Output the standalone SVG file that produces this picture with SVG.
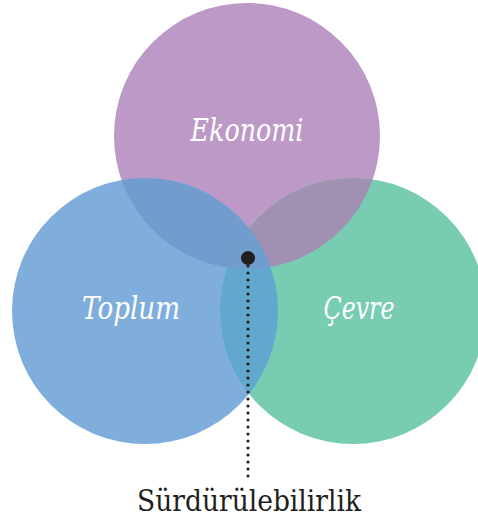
<svg xmlns="http://www.w3.org/2000/svg" width="478" height="522" viewBox="0 0 478 522">
<style>
.lbl{font-family:"DejaVu Serif","Liberation Serif",serif;font-style:italic;font-size:31px;fill:#ffffff;text-anchor:middle}
.cap{font-family:"DejaVu Serif","Liberation Serif",serif;font-size:30px;fill:#231f20;text-anchor:middle}
</style>
<defs>
<clipPath id="cE"><circle cx="247" cy="136" r="133"/></clipPath>
<clipPath id="cT"><circle cx="145" cy="311" r="133"/></clipPath>
<clipPath id="cC"><circle cx="353" cy="311" r="133"/></clipPath>
</defs>
<rect width="478" height="522" fill="#ffffff"/>
<g id="ekonomi">
<circle cx="247" cy="136" r="133" fill="#bc99c6"/>
</g>
<g id="toplum">
<circle cx="145" cy="311" r="133" fill="#7faedc"/>
</g>
<g id="cevre">
<circle cx="353" cy="311" r="133" fill="#77ccb1"/>
</g>
<g id="overlaps">
<circle cx="145" cy="311" r="133" fill="#739cce" clip-path="url(#cE)"/>
<circle cx="353" cy="311" r="133" fill="#a091b3" clip-path="url(#cE)"/>
<circle cx="353" cy="311" r="133" fill="#62a7ce" clip-path="url(#cT)"/>
<g clip-path="url(#cE)"><circle cx="353" cy="311" r="133" fill="#6f9ece" clip-path="url(#cT)"/></g>
</g>
<g id="labels">
<text class="lbl" x="247" y="141" textLength="113" lengthAdjust="spacingAndGlyphs">Ekonomi</text>
<text class="lbl" x="131" y="319" textLength="98" lengthAdjust="spacingAndGlyphs">Toplum</text>
<text class="lbl" x="359" y="319" textLength="71" lengthAdjust="spacingAndGlyphs">Çevre</text>
</g>
<g id="connectors">
<line x1="248" y1="266" x2="248" y2="479" stroke="#231f20" stroke-width="3.2" stroke-linecap="round" stroke-dasharray="0 7"/>
<circle cx="248" cy="258" r="7" fill="#231f20"/>
</g>
<g id="surdurulebilirlik">
<text class="cap" x="249" y="511" textLength="224" lengthAdjust="spacingAndGlyphs">Sürdürülebilirlik</text>
</g>
</svg>
